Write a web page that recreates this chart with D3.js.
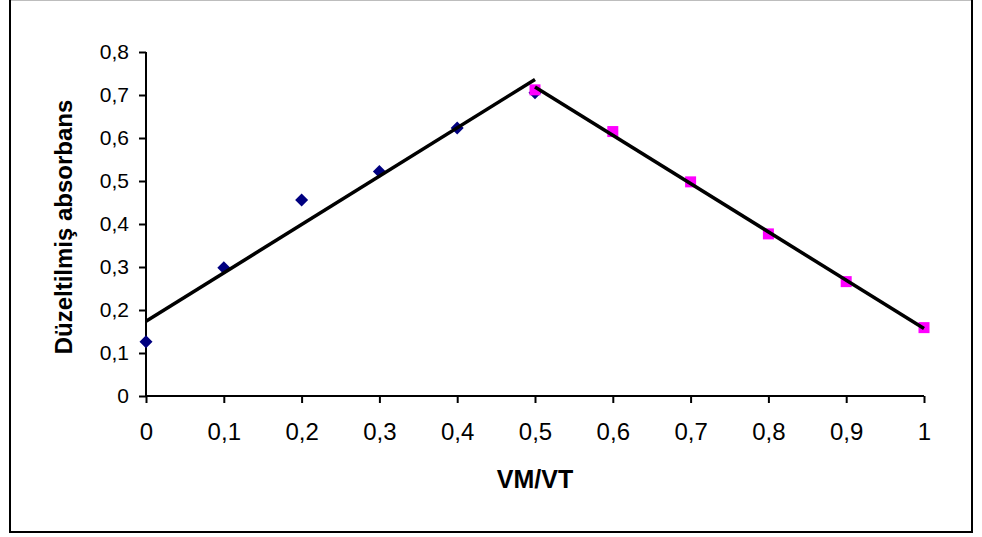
<!DOCTYPE html>
<html>
<head>
<meta charset="utf-8">
<script src="https://cdn.jsdelivr.net/npm/d3@7"></script>
<style>
  html, body { margin: 0; padding: 0; background: #fff; }
  svg { display: block; }
  text { font-family: Arial, "Liberation Sans", sans-serif; fill: #000; }
</style>
</head>
<body>
<svg id="chart" width="982" height="537"></svg>
<script>
// Mole-ratio data: corrected absorbance vs. VM/VT
const xValues = [0, 0.1, 0.2, 0.3, 0.4, 0.5, 0.6, 0.7, 0.8, 0.9, 1.0];
const risingX = [0, 0.1, 0.2, 0.3, 0.4, 0.5];
const risingY = [0.126, 0.298, 0.456, 0.522, 0.623, 0.705];
const fallingX = [0.5, 0.6, 0.7, 0.8, 0.9, 1.0];
const fallingY = [0.712, 0.615, 0.498, 0.377, 0.266, 0.159];
const yTicks = [0, 0.1, 0.2, 0.3, 0.4, 0.5, 0.6, 0.7, 0.8];
const xLabel = "VM/VT";
const yLabel = "Düzeltilmiş absorbans";

const svg = d3.select("#chart");

// chart frame
svg.append("line").attr("x1", 10).attr("x2", 972).attr("y1", 0.5).attr("y2", 0.5)
  .attr("stroke", "#bdbdbd").attr("stroke-width", 1);
svg.append("path")
  .attr("d", "M10,0 L10,532 L972,532 L972,0")
  .attr("fill", "none").attr("stroke", "#000").attr("stroke-width", 2);

const x = d3.scaleLinear().domain([0, 1]).range([146, 924]);
const y = d3.scaleLinear().domain([0, 0.8]).range([396, 52]);
const fmt = d => String(+d.toFixed(1)).replace(".", ",");

// y axis
const yAxis = svg.append("g").attr("transform", `translate(${x(0)},0)`)
  .call(d3.axisLeft(y).tickValues(yTicks).tickSize(7).tickPadding(10).tickFormat(fmt));
// x axis
const xAxis = svg.append("g").attr("transform", `translate(0,${y(0)})`)
  .call(d3.axisBottom(x).tickValues(xValues).tickSize(7).tickPadding(20).tickFormat(fmt));

[yAxis, xAxis].forEach(g => {
  g.select(".domain").attr("stroke", "#000").attr("stroke-width", 2)
    .attr("d", g === yAxis ? `M0,${y(0.8)}V${y(0)}` : `M${x(0)},0H${x(1)}`);
  g.selectAll(".tick line").attr("stroke", "#000").attr("stroke-width", 2);
});
yAxis.selectAll(".tick text").attr("font-size", 21).attr("font-family", "Arial, 'Liberation Sans', sans-serif");
xAxis.selectAll(".tick text").attr("font-size", 24).attr("font-family", "Arial, 'Liberation Sans', sans-serif");

// axis titles
svg.append("text").attr("x", 535).attr("y", 488).attr("text-anchor", "middle")
  .attr("font-weight", "bold").attr("font-size", 25).text(xLabel);
svg.append("text").attr("transform", "translate(72,227) rotate(-90)")
  .attr("text-anchor", "middle").attr("font-weight", "bold").attr("font-size", 24).text(yLabel);

// markers: navy diamonds for the rising branch, magenta squares for the falling branch
svg.append("g").selectAll("path").data(risingX.map((v, i) => [v, risingY[i]])).join("path")
  .attr("d", "M0,-6.5L6.5,0L0,6.5L-6.5,0Z")
  .attr("transform", d => `translate(${x(d[0])},${y(d[1])})`)
  .attr("fill", "#000080");
svg.append("g").selectAll("rect").data(fallingX.map((v, i) => [v, fallingY[i]])).join("rect")
  .attr("x", d => x(d[0]) - 5.5).attr("y", d => y(d[1]) - 5.5)
  .attr("width", 11).attr("height", 11).attr("fill", "#ff00ff");

// least-squares trendlines for each branch
function fit(xs, ys) {
  const mx = d3.mean(xs), my = d3.mean(ys);
  const sxy = d3.sum(xs, (v, i) => (v - mx) * (ys[i] - my));
  const sxx = d3.sum(xs, v => (v - mx) ** 2);
  const m = sxy / sxx;
  return v => my + m * (v - mx);
}
const line = d3.line().x(d => x(d[0])).y(d => y(d[1]));
[[risingX, risingY], [fallingX, fallingY]].forEach(([xs, ys]) => {
  const f = fit(xs, ys);
  const ends = [d3.min(xs), d3.max(xs)];
  svg.append("path").attr("d", line(ends.map(v => [v, f(v)])))
    .attr("fill", "none").attr("stroke", "#000").attr("stroke-width", 3.5);
});
</script>
</body>
</html>
